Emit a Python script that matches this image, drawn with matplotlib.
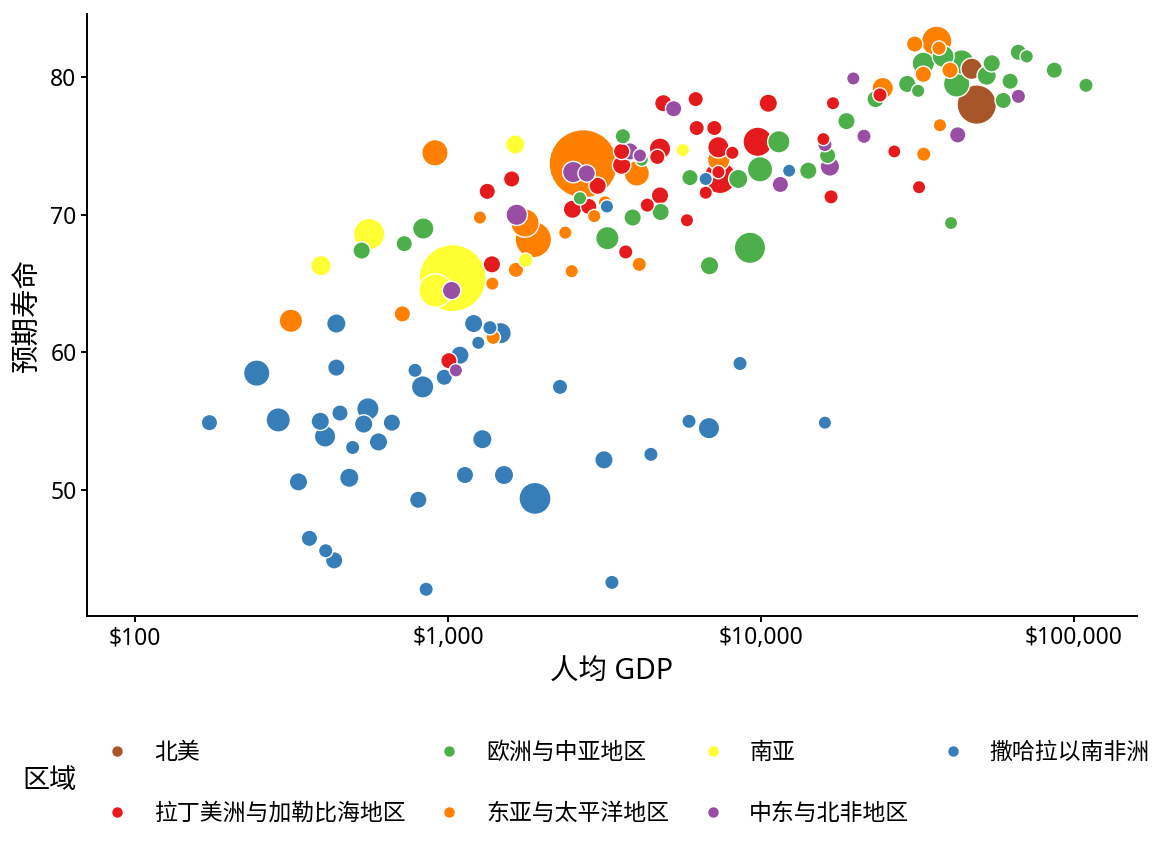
import numpy as np
import matplotlib.pyplot as plt
from matplotlib.lines import Line2D

plt.rcParams['font.family'] = ['Noto Sans', 'Noto Sans CJK SC', 'DejaVu Sans']

# 区域名称与颜色 (Set1)
regions = ['北美', '拉丁美洲与加勒比海地区', '欧洲与中亚地区', '东亚与太平洋地区',
           '南亚', '中东与北非地区', '撒哈拉以南非洲']
region_colors = ['#a65628', '#e41a1c', '#4daf4a', '#ff7f00',
                 '#ffff33', '#984ea3', '#377eb8']

# 北美
na_gdp = [48900, 47100]
na_life = [78.0, 80.6]
na_pop = [321, 36]

# 拉丁美洲与加勒比海地区
la_gdp = [1598, 1335, 1382, 2500, 2816, 3008, 3587, 3587, 4758, 4665, 4758, 4333,
          3697, 4875, 6185, 10550, 6230, 7095, 9760, 7310, 8100, 7396, 7310, 6660,
          5800, 16980, 15820, 16740, 26660, 31980, 23990, 1007]
la_life = [72.6, 71.7, 66.4, 70.4, 70.6, 72.1, 74.6, 73.6, 74.8, 74.2, 71.4, 70.7,
           67.3, 78.1, 78.4, 78.1, 76.3, 76.3, 75.3, 74.9, 74.5, 72.7, 73.1, 71.6,
           69.6, 78.1, 75.5, 71.3, 74.6, 72.0, 78.7, 59.4]
la_pop = [7, 7, 11, 15.8, 7, 11, 7, 15.8, 35.5, 3.9, 11, 1.75,
          1.75, 11, 3.9, 15.8, 3.9, 3.9, 127, 35.5, 0.44, 170, 0.44, 0.44,
          0.44, 0.44, 0.3, 1.75, 0.3, 0.44, 1.75, 7]

# 欧洲与中亚地区
eu_gdp = [834, 725, 530, 3620, 4160, 3890, 4780, 3230, 2640, 5930, 8460, 9930,
          11400, 9220, 6850, 14160, 16330, 18750, 23240, 29310, 31760, 33000, 38200,
          43760, 42170, 52600, 54600, 62500, 59400, 66400, 70600, 86500, 109200, 40460]
eu_life = [69.0, 67.9, 67.4, 75.7, 74.0, 69.8, 70.2, 68.3, 71.2, 72.7, 72.6, 73.3,
           75.3, 67.6, 66.3, 73.2, 74.3, 76.8, 78.4, 79.5, 79.0, 81.0, 81.5,
           81.1, 79.5, 80.1, 81.0, 79.7, 78.3, 81.8, 81.5, 80.5, 79.4, 69.4]
eu_pop = [35, 7, 11, 4, 0.5, 11, 11, 53, 0.5, 7, 21, 74,
          44, 158, 16, 11, 7, 11, 11, 11, 0.5, 44, 40,
          63, 86, 21, 11, 7, 7, 7, 0.5, 7, 1.8, 0.3]

# 东亚与太平洋地区
ea_gdp = [2705, 4010, 1874, 1762, 1265, 1649, 1386, 2370, 2485, 2933, 3175, 4085,
          909, 315, 715, 1395, 7330, 24480, 30970, 36400, 37050, 40160, 33000,
          37300, 33100]
ea_life = [73.7, 73.0, 68.2, 69.4, 69.8, 66.0, 65.0, 68.7, 65.9, 69.9, 70.9, 66.4,
           74.5, 62.3, 62.8, 61.1, 74.0, 79.2, 82.4, 82.6, 82.1, 80.5, 80.2,
           76.5, 74.4]
ea_pop = [1375, 74, 253, 112, 0.44, 3.9, 0.44, 0.44, 0.44, 0.44, 0.44, 1.75,
          86, 53, 7, 1.75, 43.9, 35.5, 7, 142, 1.75, 7, 7,
          0.44, 1.75]

# 南亚
sa_gdp = [1035, 913, 560, 393, 1640, 1770, 5630]
sa_life = [65.4, 64.5, 68.6, 66.3, 75.1, 66.7, 74.7]
sa_pop = [1312, 193, 158, 28, 21.5, 1.75, 0.44]

# 中东与北非地区
me_gdp = [2513, 2774, 3812, 4105, 1658, 1027, 1060, 5260, 11530, 21330, 16600,
          16000, 19720, 42500, 66400]
me_life = [73.1, 73.0, 74.6, 74.3, 70.0, 64.5, 58.7, 77.7, 72.2, 75.7, 73.5,
           75.1, 79.9, 75.8, 78.6]
me_pop = [35.5, 11, 11, 0.44, 35.5, 15.8, 0.44, 7, 7, 1.75, 21.5,
          1.75, 0.44, 7, 1.75]

# 撒哈拉以南非洲
af_gdp = [440, 1208, 1362, 1473, 1250, 1092, 785, 973, 830, 245, 440, 2280, 173,
          287, 391, 452, 555, 538, 662, 405, 496, 600, 1288, 333, 484, 1133, 1510,
          1897, 804, 361, 407, 433, 852, 3340, 3150, 4450, 5890, 6820, 8570, 16000,
          6660, 12300, 3220]
af_life = [62.1, 62.1, 61.8, 61.4, 60.7, 59.8, 58.7, 58.2, 57.5, 58.5, 58.9, 57.5,
           54.9, 55.1, 55.0, 55.6, 55.9, 54.8, 54.9, 53.9, 53.1, 53.5, 53.7, 50.6,
           50.9, 51.1, 51.1, 49.4, 49.3, 46.5, 45.6, 44.9, 42.8, 43.3, 52.2, 52.6,
           55.0, 54.5, 59.2, 54.9, 72.6, 73.2, 70.6]
af_pop = [21.5, 15.8, 1.75, 35.5, 0.44, 15.8, 1.75, 7, 43.9, 86, 11, 3.9, 7,
          63, 15.8, 7, 43.9, 15.8, 11, 35.5, 1.75, 15.8, 21.5, 15.8, 21.5, 11, 21.5,
          170, 11, 7, 1.75, 11, 1.75, 1.75, 15.8, 1.75, 1.75, 35.5, 1.75, 0.44,
          0.44, 0.3, 0.44]

x_ticks = [100, 1000, 10000, 100000]
x_tick_labels = ['$100', '$1,000', '$10,000', '$100,000']
y_ticks = [50, 60, 70, 80]

groups = [(na_gdp, na_life, na_pop), (la_gdp, la_life, la_pop),
          (eu_gdp, eu_life, eu_pop), (ea_gdp, ea_life, ea_pop),
          (sa_gdp, sa_life, sa_pop), (me_gdp, me_life, me_pop),
          (af_gdp, af_life, af_pop)]

gdp, life, pop, col = [], [], [], []
for (g, l, p), c in zip(groups, region_colors):
    gdp += g
    life += l
    pop += p
    col += [c] * len(g)
gdp = np.array(gdp, dtype=float)
life = np.array(life)
pop = np.array(pop)
col = np.array(col)

# big bubbles first so small ones stay visible
order = np.argsort(-pop, kind='stable')
diam_pt = 0.72 * (11 + 1.51 * np.sqrt(pop)) + 1.0

fig = plt.figure(figsize=(11.52, 8.64), dpi=100)
ax = fig.add_axes([87 / 1152, 1 - 616 / 864, 1050 / 1152, 602 / 864])

ax.scatter(gdp[order], life[order], s=diam_pt[order] ** 2, c=col[order],
           edgecolors='white', linewidths=1.0, zorder=3)

ax.set_xscale('log')
ax.set_xlim(70.3, 158900)
ax.set_ylim(40.86, 84.58)
ax.set_xticks(x_ticks)
ax.set_xticklabels(x_tick_labels)
ax.minorticks_off()
ax.set_yticks(y_ticks)

for s in ['top', 'right']:
    ax.spines[s].set_visible(False)
for s in ['left', 'bottom']:
    ax.spines[s].set_linewidth(1.4)
ax.tick_params(axis='both', width=1.4, length=4.5, labelsize=16.5, pad=3, colors='black')

ax.set_xlabel('人均 GDP', fontsize=20.5, labelpad=5)
ax.set_ylabel('预期寿命', fontsize=20.5, labelpad=6)

handles = [Line2D([], [], marker='o', linestyle='none', markersize=6.5,
                  markerfacecolor=c, markeredgecolor=c) for c in region_colors]
leg = fig.legend(handles, regions, loc='upper left', ncol=4, frameon=False,
                 bbox_to_anchor=(106 / 1152, 1 - 741 / 864), fontsize=16.5,
                 handlelength=1.0, handletextpad=1.1, columnspacing=1.4,
                 labelspacing=1.6, borderpad=0, borderaxespad=0)
fig.text(22 / 1152, 1 - 781 / 864, '区域', fontsize=19.5, va='center', ha='left')

fig.savefig('out.png', dpi=100)
